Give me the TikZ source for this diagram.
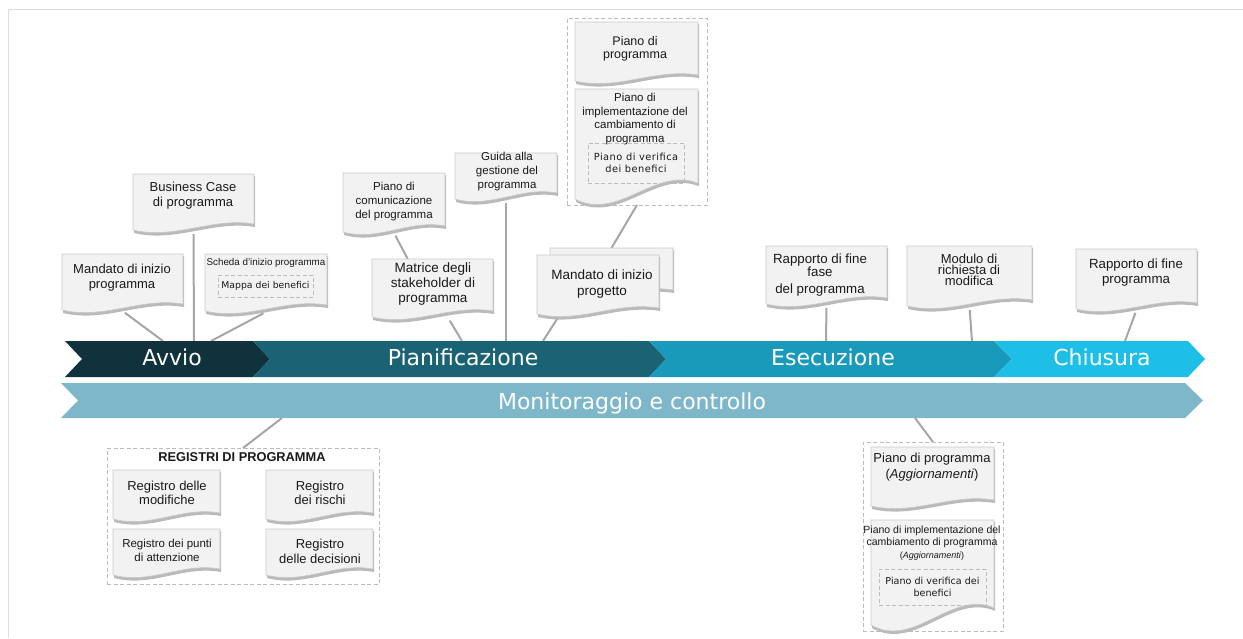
\documentclass[tikz,border=0pt]{standalone}
\usepackage{fontspec}
\setmainfont{Liberation Sans}
\newfontfamily\dejavu{DejaVu Sans}
\newfontfamily\dejavusp[LetterSpace=5]{DejaVu Sans}
\usetikzlibrary{calc}
\pgfdeclarelayer{lines}
\pgfdeclarelayer{docs}
\pgfsetlayers{lines,docs,main}
\definecolor{cAvvio}{HTML}{10323C}
\definecolor{cPian}{HTML}{1A6375}
\definecolor{cEsec}{HTML}{1A9ABB}
\definecolor{cChius}{HTML}{1EBFE7}
\definecolor{cMon}{HTML}{7FB7CA}
\definecolor{docfill}{HTML}{F2F2F2}
\definecolor{docline}{HTML}{C8C8C8}
\definecolor{docshadow}{HTML}{BABABA}
\definecolor{connc}{HTML}{A6A6A6}
\definecolor{dashc}{HTML}{BCBCBC}
\definecolor{framec}{HTML}{DEDEDE}
\definecolor{textc}{HTML}{1A1A1A}

% document shape behind a named box node
\newcommand\docbg[2][1]{%
 \begin{pgfonlayer}{docs}
 \fill[docshadow] let \p1=(#2.north west), \p2=(#2.south east) in
   ({\x1+1pt},{\y1-2pt}) -- ({\x2+1pt},{\y1-2pt}) -- ({\x2+1pt},{\y2+#1*7pt-3pt})
   .. controls ({\x2-0.35*(\x2-\x1)+1pt},{\y2+#1*14pt-3pt}) and ({\x1+0.35*(\x2-\x1)+1pt},{\y2-#1*9pt-3pt}) ..
   ({\x1+1pt},{\y2-2pt}) -- cycle;
 \filldraw[fill=docfill, draw=docline, line width=0.6pt] let \p1=(#2.north west), \p2=(#2.south east) in
   (\x1,\y1) -- (\x2,\y1) -- (\x2,{\y2+#1*7pt})
   .. controls ({\x2-0.35*(\x2-\x1)},{\y2+#1*14pt}) and ({\x1+0.35*(\x2-\x1)},{\y2-#1*9pt}) ..
   (\x1,{\y2+1pt}) -- cycle;
 \end{pgfonlayer}}

\newcommand\docat[6][1]{%
 \pgfmathsetmacro\dcx{(#3+#5)/2}\pgfmathsetmacro\dcy{(#4+#6)/2}%
 \pgfmathsetmacro\dw{#5-#3}\pgfmathsetmacro\dh{#6-#4}%
 \node[docbox, minimum width=\dw pt, minimum height=\dh pt] (#2) at (\dcx,\dcy) {};%
 \docbg[#1]{#2}}

\newcommand\grpat[7][]{%
 \pgfmathsetmacro\dcx{(#3+#5)/2}\pgfmathsetmacro\dcy{(#4+#6)/2}%
 \pgfmathsetmacro\dw{#5-#3}\pgfmathsetmacro\dh{#6-#4}%
 \node[grp, minimum width=\dw pt, minimum height=\dh pt, #1] (#2) at (\dcx,\dcy) {#7};}

\begin{document}
\begin{tikzpicture}[x=1pt,y=-1pt,
  docbox/.style={rectangle,inner sep=0pt,outer sep=0pt},
  doctxt/.style={align=center,inner sep=0pt,text=textc},
  grp/.style={rectangle,draw=dashc,line width=0.8pt,dash pattern=on 4pt off 2.5pt,inner sep=0pt,outer sep=0pt,align=center,text=textc},
  link/.style={draw=connc,line width=2pt},
  dlink/.style={link,shorten <=3pt},
  phase/.style={text=white,inner sep=0pt,anchor=base,font=\dejavu\fontsize{22}{26}\selectfont}]
\useasboundingbox (0,0) rectangle (1243,638);
\draw[framec, line width=1pt] (8,638) -- (8,9.5) -- (1243,9.5);

% ---- phase bars
\fill[cAvvio] (65,341) -- (253,341) -- (270,359) -- (253,377) -- (65,377) -- (82,359) -- cycle;
\fill[cPian] (253,341) -- (649,341) -- (666,359) -- (649,377) -- (253,377) -- (270,359) -- cycle;
\fill[cEsec] (649,341) -- (994,341) -- (1012,359) -- (994,377) -- (649,377) -- (666,359) -- cycle;
\fill[cChius] (994,341) -- (1188,341) -- (1205,359) -- (1188,377) -- (994,377) -- (1012,359) -- cycle;
\fill[cMon] (61,383) -- (1185,383) -- (1203,400.5) -- (1185,418) -- (61,418) -- (78,400.5) -- cycle;
\node[phase] (avvio) at (172,365) {Avvio};
\node[phase] (pian) at (463,365) {Pianificazione};
\node[phase] (esec) at (833,365) {Esecuzione};
\node[phase] (chius) at (1102,365) {Chiusura};
\node[phase] (monit) at (632,409) {Monitoraggio e controllo};

% ---- Avvio documents
\docat{mandprog}{62}{254}{183}{311}
\node[doctxt, font=\fontsize{13}{15}\selectfont] (mandprog-t) at (122,278) {Mandato di inizio\\programma};
\docat{bizcase}{133}{174}{254}{231}
\node[doctxt, font=\fontsize{13}{15}\selectfont] (bizcase-t) at (193,196) {Business Case\\di programma};
\docat{scheda}{205}{254}{327}{312}
\node[doctxt, font=\fontsize{9.8}{11}\selectfont] (scheda-t) at (266,263) {Scheda d'inizio programma};
\grpat[font=\dejavu\fontsize{9.3}{11}\selectfont]{mappa}{218}{275}{313}{297}{Mappa dei benefici}

% ---- Pianificazione documents
\docat{comun}{343}{173}{445}{233}
\node[doctxt, font=\fontsize{11.5}{14}\selectfont] (comun-t) at (394,202) {Piano di\\comunicazione\\del programma};
\docat{matrice}{372}{259}{493}{318}
\node[doctxt, font=\fontsize{13.5}{15}\selectfont] (matrice-t) at (433,284) {Matrice degli\\stakeholder di\\programma};
\docat{guida}{455}{153}{557}{200}
\node[doctxt, font=\fontsize{11.5}{14}\selectfont] (guida-t) at (507,172) {Guida alla\\gestione del\\programma};
\docat{mandproj-b}{550}{248}{673}{297}
\docat{mandproj}{537}{255}{659}{315}
\node[doctxt, font=\fontsize{13.5}{16}\selectfont] (mandproj-t) at (602,284) {Mandato di inizio\\progetto};

% top group
\grpat{gtop}{567}{18}{707}{205}{}
\docat{pprog}{575}{22}{698}{82}
\node[doctxt, font=\fontsize{12.5}{13.5}\selectfont] (pprog-t) at (635,49) {Piano di\\programma};
\docat[2.4]{pimpl}{575}{89}{698}{200}
\node[doctxt, font=\fontsize{11.5}{13.5}\selectfont] (pimpl-t) at (635,119) {Piano di\\implementazione del\\cambiamento di\\programma};
\grpat[font=\dejavusp\fontsize{9.8}{12}\selectfont]{pverif}{588}{143}{684}{183}{Piano di verifica\\dei benefici}

% ---- Esecuzione / Chiusura documents
\docat{rfase}{766}{246}{887}{305}
\node[doctxt, font=\fontsize{13.3}{13}\selectfont] (rfase-t) at (820,275) {Rapporto di fine\\fase\\[4pt]del programma};
\docat{modulo}{907}{246}{1032}{307}
\node[doctxt, font=\fontsize{13}{11}\selectfont] (modulo-t) at (969,270) {Modulo di\\richiesta di\\modifica};
\docat{rfine}{1076}{249}{1197}{310}
\node[doctxt, font=\fontsize{13.3}{15}\selectfont] (rfine-t) at (1136,273) {Rapporto di fine\\programma};

% ---- Registri group
\grpat{greg}{107}{448}{379}{584}{}
\node[doctxt, font=\bfseries\fontsize{12.8}{14}\selectfont] (regtitle) at (242,457) {REGISTRI DI PROGRAMMA};
\docat{regmod}{113}{470}{220}{520}
\node[doctxt, font=\fontsize{13}{14.5}\selectfont] (regmod-t) at (167,493) {Registro delle\\modifiche};
\docat{regris}{266}{470}{373}{520}
\node[doctxt, font=\fontsize{13}{14.5}\selectfont] (regris-t) at (320,493) {Registro\\dei rischi};
\docat{regpun}{113}{529}{220}{576}
\node[doctxt, font=\fontsize{11.5}{14}\selectfont] (regpun-t) at (167,550) {Registro dei punti\\di attenzione};
\docat{regdec}{266}{529}{373}{576}
\node[doctxt, font=\fontsize{13}{15}\selectfont] (regdec-t) at (320,551) {Registro\\delle decisioni};

% ---- bottom right group
\grpat{gbr}{863}{442}{1003}{631}{}
\docat{pagg}{871}{447}{994}{507}
\node[doctxt, font=\fontsize{13}{16}\selectfont] (pagg-t) at (932,467) {Piano di programma\\(\textit{Aggiornamenti})};
\docat[2.6]{pimplagg}{871}{520}{994}{626}
\node[doctxt, font=\fontsize{10.5}{12.5}\selectfont] (pimplagg-t) at (932,543) {Piano di implementazione del\\cambiamento di programma\\{\fontsize{9}{11}\selectfont(\textit{Aggiornamenti})}};
\grpat[font=\dejavu\fontsize{9.6}{11.5}\selectfont]{pverif2}{879}{569}{986}{605}{Piano di verifica dei\\benefici}

% ---- connector end points on the bars
\coordinate (c1) at (163,341);
\coordinate (c2) at (194,341);
\coordinate (c3) at (211,341);
\coordinate (c5) at (462,341);
\coordinate (c6) at (506,341);
\coordinate (c7) at (543,341);
\coordinate (c9) at (826,341);
\coordinate (c10) at (972,341);
\coordinate (c11) at (1125,341);
\coordinate (c12) at (282,418);
\coordinate (c13) at (915,418);

\begin{pgfonlayer}{lines}
\draw[dlink] (mandprog.south) -- (c1);
\draw[dlink] (bizcase.south) -- (c2);
\draw[dlink] (scheda.south) -- (c3);
\draw[dlink] (comun.south) -- (matrice.130);
\draw[dlink] (matrice.-62) -- (c5);
\draw[dlink] (guida.south) -- (c6);
\draw[dlink] (mandproj.218) -- (c7);
\draw[link] (mandproj-b.north) -- (gtop.south);
\draw[dlink] (rfase.south) -- (c9);
\draw[dlink] (modulo.south) -- (c10);
\draw[dlink] (rfine.south) -- (c11);
\draw[link] (greg.north) -- (c12);
\draw[link] (gbr.north) -- (c13);
\end{pgfonlayer}
\end{tikzpicture}
\end{document}
